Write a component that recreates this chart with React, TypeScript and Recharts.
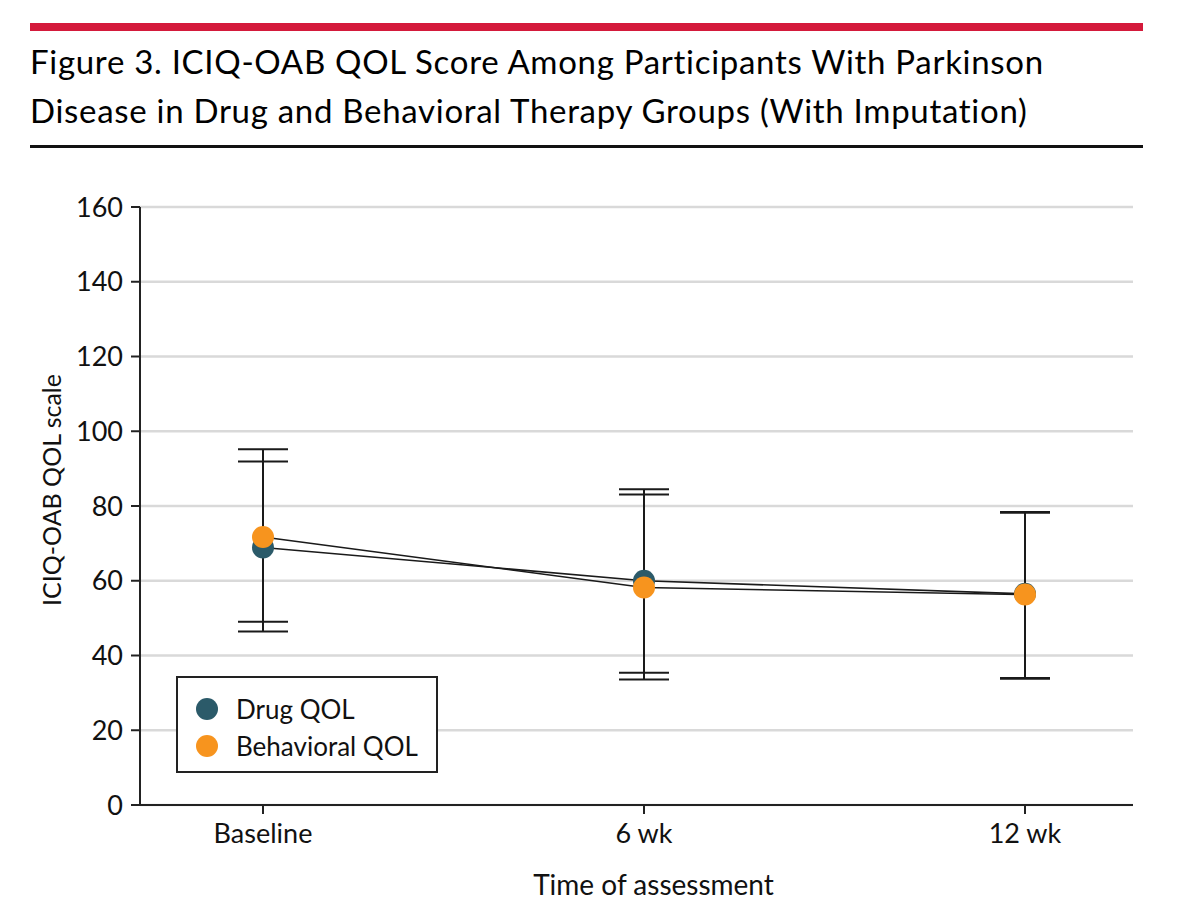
import React from "react";
import {
  ComposedChart,
  Line,
  XAxis,
  YAxis,
  CartesianGrid,
  ErrorBar,
} from "recharts";

// values
const categories = ["Baseline", "6 wk", "12 wk"];
const drugMean = [68.9, 60.0, 56.5];
const drugLow = [46.4, 35.4, 33.8];
const drugHigh = [91.9, 84.5, 78.4];
const behavioralMean = [71.7, 58.2, 56.3];
const behavioralLow = [49.0, 33.6, 34.0];
const behavioralHigh = [95.2, 83.1, 78.2];
const yTicks = [0, 20, 40, 60, 80, 100, 120, 140, 160];

const DRUG = "#2b5a69";
const BEHAV = "#f7941e";
const FONT = "Lato, 'Open Sans', sans-serif";

const data = categories.map((name, i) => ({
  name,
  drug: drugMean[i],
  drugErr: [drugMean[i] - drugLow[i], drugHigh[i] - drugMean[i]],
  behavioral: behavioralMean[i],
  behavioralErr: [behavioralMean[i] - behavioralLow[i], behavioralHigh[i] - behavioralMean[i]],
}));

const legendItems = [
  { label: "Drug QOL", color: DRUG },
  { label: "Behavioral QOL", color: BEHAV },
];

function LegendBox() {
  return (
    <div
      style={{
        position: "absolute",
        left: 176,
        top: 676,
        width: 258,
        height: 93,
        border: "2px solid #222",
        background: "#fff",
        fontFamily: FONT,
      }}
    >
      {legendItems.map((it, i) => (
        <div
          key={it.label}
          style={{ display: "flex", alignItems: "center", height: 37, marginTop: i === 0 ? 12 : 0 }}
        >
          <span
            style={{
              width: 22,
              height: 22,
              borderRadius: 11,
              background: it.color,
              marginLeft: 18,
              marginRight: 18,
              display: "inline-block",
            }}
          />
          <span style={{ fontSize: 26, color: "#111" }}>{it.label}</span>
        </div>
      ))}
    </div>
  );
}

const YLabel = () => (
  <text
    x={51}
    y={490}
    transform="rotate(-90 51 490)"
    textAnchor="middle"
    dominantBaseline="central"
    fill="#111"
    fontSize={25}
    fontFamily={FONT}
  >
    ICIQ-OAB QOL scale
  </text>
);

export default function App() {
  return (
    <div
      style={{
        position: "absolute",
        left: 0,
        top: 0,
        width: 1199,
        height: 904,
        background: "#fff",
        fontFamily: FONT,
      }}
    >
      <div style={{ position: "absolute", left: 30, top: 23, width: 1113, height: 8, background: "#d41a3b" }} />
      <div
        style={{
          position: "absolute",
          left: 30,
          top: 37,
          fontSize: 33,
          letterSpacing: 0.7,
          lineHeight: "49px",
          color: "#000",
          whiteSpace: "nowrap",
        }}
      >
        Figure 3. ICIQ-OAB QOL Score Among Participants With Parkinson
        <br />
        Disease in Drug and Behavioral Therapy Groups (With Imputation)
      </div>
      <div style={{ position: "absolute", left: 30, top: 145, width: 1113, height: 3, background: "#111" }} />

      <ComposedChart
        width={1199}
        height={904}
        data={data}
        margin={{ top: 207, right: 66, bottom: 69, left: 0 }}
        style={{ position: "absolute", left: 0, top: 0 }}
      >
        <CartesianGrid horizontal vertical={false} stroke="#d9d9d9" strokeWidth={2.5} />
        <XAxis
          dataKey="name"
          padding={{ left: 123, right: 108 }}
          tickSize={9}
          tickMargin={10}
          axisLine={{ stroke: "#222", strokeWidth: 2 }}
          tickLine={{ stroke: "#222", strokeWidth: 2 }}
          tick={{ fill: "#111", fontSize: 27, fontFamily: FONT }}
          label={{
            value: "Time of assessment",
            position: "bottom",
            offset: 40,
            dx: 17,
            fill: "#111",
            fontSize: 28,
            fontFamily: FONT,
          }}
        />
        <YAxis
          width={140}
          domain={[0, 160]}
          ticks={yTicks}
          interval={0}
          tickSize={9}
          tickMargin={8}
          axisLine={{ stroke: "#222", strokeWidth: 2 }}
          tickLine={{ stroke: "#222", strokeWidth: 2 }}
          tick={{ fill: "#111", fontSize: 27, fontFamily: FONT }}
          label={{ content: () => <YLabel /> }}
        />
        <Line
          dataKey="drug"
          name="Drug QOL"
          stroke="#1a1a1a"
          strokeWidth={1.6}
          dot={{ r: 11, fill: DRUG, stroke: DRUG, strokeWidth: 0 }}
          activeDot={false}
          isAnimationActive={false}
        >
          <ErrorBar dataKey="drugErr" width={25} stroke="#1a1a1a" strokeWidth={2} direction="y" />
        </Line>
        <Line
          dataKey="behavioral"
          name="Behavioral QOL"
          stroke="#1a1a1a"
          strokeWidth={1.6}
          dot={{ r: 11, fill: BEHAV, stroke: BEHAV, strokeWidth: 0 }}
          activeDot={false}
          isAnimationActive={false}
        >
          <ErrorBar dataKey="behavioralErr" width={25} stroke="#1a1a1a" strokeWidth={2} direction="y" />
        </Line>
      </ComposedChart>
      <LegendBox />
    </div>
  );
}
